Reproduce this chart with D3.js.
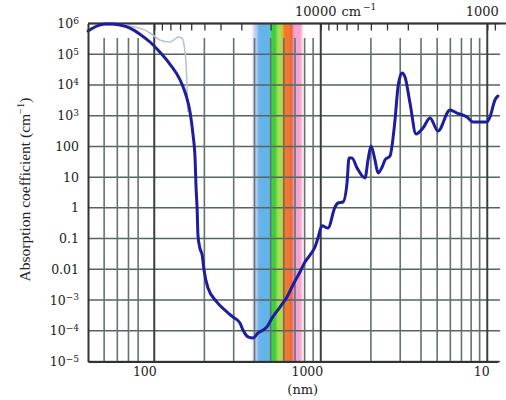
<!DOCTYPE html>
<html>
<head>
<meta charset="utf-8">
<script src="https://cdn.jsdelivr.net/npm/d3@7"></script>
<style>
  body { margin: 0; background: #fff; }
  svg text { font-family: "DejaVu Serif", serif; fill: #222; }
</style>
</head>
<body>
<div id="chart"></div>
<script>
// Absorption of liquid water: wavelength (nm) and coefficient (cm^-1)
const wavelengthNm = [40, 44, 50.6, 55.8, 62.2, 71.5, 82, 94.3, 108, 124,
  143, 155, 164, 171, 176, 178, 181, 183, 188, 194,
  199, 210, 238, 273, 297, 327, 341, 366, 392, 420,
  475, 510, 569, 627, 681, 750, 804, 862, 923, 962,
  1017, 1105, 1218, 1269, 1360, 1438, 1478, 1540, 1651, 1844,
  1922, 2003, 2117, 2207, 2332, 2431, 2605, 2792, 2910, 3076,
  3206, 3435, 3733, 4113, 4529, 5059, 5972, 6577, 7553, 8208,
  9956, 10380, 11120, 11600];
const absorption = [5.7e5, 7.7e5, 9.6e5, 9.6e5, 8.9e5, 7.1e5, 4.5e5, 2.5e5, 1.18e5, 4.8e4,
  1.45e4, 4.7e3, 1.32e3, 236, 36, 5.6, 0.85, 0.13, 0.049, 0.029,
  0.0095, 0.0025, 8.6e-4, 4.1e-4, 2.8e-4, 1.8e-4, 1.06e-4, 6.3e-5, 5.8e-5, 8.5e-5,
  1.33e-4, 2.6e-4, 5.9e-4, 1.26e-3, 3.1e-3, 8.2e-3, 0.0173, 0.029, 0.053, 0.105,
  0.26, 0.22, 1.07, 1.44, 1.55, 6.5, 42, 42, 20, 9.4,
  36, 103, 36, 13.6, 21, 36, 49, 724, 8.6e3, 2.45e4,
  1.8e4, 2.6e3, 254, 397, 841, 318, 1530, 1220, 906, 624,
  624, 906, 3240, 4380];

// second (faint) measurement in the far UV
const uvWavelengthNm = [44, 47.2, 62.2, 76.6, 88, 98.3, 108, 124, 131, 139, 147, 151, 155, 157, 159];
const uvAbsorption = [7.7e5, 8.9e5, 8.9e5, 7.7e5, 6.1e5, 4.2e5, 2.9e5, 2.5e5, 2.9e5, 3.6e5, 3.4e5, 2.0e5, 5.6e4, 1.25e4, 1.32e3];

// visible spectrum strip (nm)
const bandFromNm = [392, 415, 497, 548, 590, 655, 681];
const bandToNm = [415, 497, 548, 590, 655, 681, 772];
const bandColors = ["#cccaf0", "#62b4ea", "#3dcf3a", "#a6df4a", "#f27a26", "#e4552e", "#f5a3cf"];

const xTickValues = [100, 1000, 10000];
const xTickLabels = ["100", "1000", "10"];
const yTickValues = [1e6, 1e5, 1e4, 1e3, 100, 10, 1, 0.1, 0.01, 1e-3, 1e-4, 1e-5];
const yTickLabels = ["10^6", "10^5", "10^4", "10^3", "100", "10", "1", "0.1", "0.01", "10^\u22123", "10^\u22124", "10^\u22125"];
const topTickValues = [10000, 1000]; // cm^-1
const topTickLabels = ["10000", "1000"];
const gridMajorNm = [100, 1000, 10000];
const gridMinorNm = [50, 60, 70, 80, 200, 300, 400, 500, 600, 700, 800, 900,
  2000, 3000, 4000, 5000, 6000, 7000, 8000, 9000];

const W = 506, H = 400;
const margin = { top: 23.5, right: 8, bottom: 38.5, left: 88 };

const svg = d3.select("#chart").append("svg")
  .attr("width", W).attr("height", H);

const x = d3.scaleLog().domain([40, 11600]).range([margin.left, W - margin.right]);
const y = d3.scaleLog().domain([1e-5, 1e6]).range([H - margin.bottom, margin.top]);
// wavenumber scale for the top axis
const xWn = d3.scaleLog().domain([1e7 / 40, 1e7 / 11600]).range(x.range());

const plotTop = y(1e6), plotBottom = y(1e-5);

// soft edges on the colour strip
svg.append("defs").append("filter").attr("id", "soft")
  .attr("x", "-20%").attr("width", "140%")
  .append("feGaussianBlur").attr("stdDeviation", "1.3 0");

svg.append("g").attr("filter", "url(#soft)")
  .selectAll("rect").data(bandFromNm).join("rect")
  .attr("x", d => x(d))
  .attr("width", (d, i) => x(bandToNm[i]) - x(d))
  .attr("y", plotTop).attr("height", plotBottom - plotTop)
  .attr("fill", (d, i) => bandColors[i]);

// grid
svg.append("g").selectAll("line").data(yTickValues).join("line")
  .attr("x1", margin.left).attr("x2", W - 6)
  .attr("y1", d => y(d)).attr("y2", d => y(d))
  .attr("stroke", "#55655f").attr("stroke-width", 1.5);

svg.append("g").selectAll("line").data(gridMinorNm).join("line")
  .attr("x1", d => x(d)).attr("x2", d => x(d))
  .attr("y1", plotTop + 14.5).attr("y2", plotBottom)
  .attr("stroke", "#62726c").attr("stroke-width", 1.6);

svg.append("g").selectAll("line").data(gridMajorNm).join("line")
  .attr("x1", d => x(d)).attr("x2", d => x(d))
  .attr("y1", plotTop).attr("y2", plotBottom)
  .attr("stroke", "#3a3f3e").attr("stroke-width", 2);

// top wavenumber ticks (inward)
const topMinor = [1e5].concat([1e4, 1e3].flatMap(p => d3.range(1, 10).map(k => k * p)), [900]);
svg.append("g")
  .attr("transform", `translate(0,${plotTop})`)
  .call(d3.axisTop(xWn).tickValues(topMinor).tickSize(-7).tickFormat(""))
  .call(g => g.select(".domain").remove())
  .call(g => g.selectAll(".tick line").attr("stroke", "#333").attr("stroke-width", 1.3));

svg.append("line")
  .attr("x1", margin.left).attr("x2", W)
  .attr("y1", plotTop).attr("y2", plotTop)
  .attr("stroke", "#333").attr("stroke-width", 1.8);

const topLabels = svg.append("g");
topTickValues.forEach((v, i) => {
  const cx = xWn(v) - 5;
  const t = topLabels.append("text")
    .attr("x", cx).attr("y", 16)
    .attr("text-anchor", "middle")
    .attr("font-size", 13)
    .text(topTickLabels[i]);
  if (i === 0) {
    const w = t.node().getComputedTextLength();
    const u = topLabels.append("text")
      .attr("x", cx + w / 2 + 5).attr("y", 16)
      .attr("font-size", 13);
    u.append("tspan").text("cm");
    u.append("tspan").attr("dy", -6).attr("dx", 2).attr("font-size", 9).text("\u22121");
  }
});

// curves
const uvLine = d3.line()
  .x(i => x(uvWavelengthNm[i]))
  .y(i => y(uvAbsorption[i]))
  .curve(d3.curveMonotoneX);
svg.append("path")
  .attr("d", uvLine(d3.range(uvWavelengthNm.length)))
  .attr("fill", "none").attr("stroke", "#b7c1da").attr("stroke-width", 1.6);

const line = d3.line()
  .x(i => x(wavelengthNm[i]))
  .y(i => y(absorption[i]))
  .curve(d3.curveMonotoneX);
svg.append("path")
  .attr("d", line(d3.range(wavelengthNm.length)))
  .attr("fill", "none").attr("stroke", "#1d1d9e").attr("stroke-width", 3)
  .attr("stroke-linejoin", "round").attr("stroke-linecap", "round");

// axes
svg.append("g")
  .attr("transform", `translate(0,${plotBottom})`)
  .call(d3.axisBottom(x).tickValues(xTickValues).tickFormat((d, i) => xTickLabels[i])
    .tickSize(0).tickSizeOuter(0).tickPadding(6))
  .call(g => g.select(".domain").attr("stroke", "#333").attr("stroke-width", 2))
  .call(g => g.selectAll(".tick text")
    .attr("text-anchor", "end").attr("dx", 2)
    .attr("font-size", 12.5).attr("font-family", "DejaVu Serif").attr("fill", "#222"));

svg.append("g")
  .attr("transform", `translate(${margin.left},0)`)
  .call(d3.axisLeft(y).tickValues(yTickValues).tickSize(0).tickSizeOuter(0).tickPadding(9))
  .call(g => g.select(".domain").attr("stroke", "#333").attr("stroke-width", 2))
  .call(g => g.selectAll(".tick text").each(function (d, i) {
    const t = d3.select(this).text(null)
      .attr("font-size", 12.5).attr("font-family", "DejaVu Serif").attr("fill", "#222");
    const [base, exp] = yTickLabels[i].split("^");
    t.append("tspan").text(base);
    if (exp) t.append("tspan").attr("dy", "-0.45em").attr("font-size", "0.72em").text(exp);
  }));

svg.append("text")
  .attr("x", (x(100) + x(10000)) / 2 - 18).attr("y", 394)
  .attr("text-anchor", "middle").attr("font-size", 13)
  .text("(nm)");

const yTitle = svg.append("text")
  .attr("transform", `translate(30,${(plotTop + plotBottom) / 2 - 3}) rotate(-90)`)
  .attr("text-anchor", "middle")
  .style("font-family", "'Liberation Serif', serif")
  .attr("font-size", 15.5);
yTitle.append("tspan").text("Absorption coefficient (cm");
yTitle.append("tspan").attr("dy", -6).attr("font-size", 10.5).text("\u22121");
yTitle.append("tspan").attr("dy", 6).text(")");
</script>
</body>
</html>
